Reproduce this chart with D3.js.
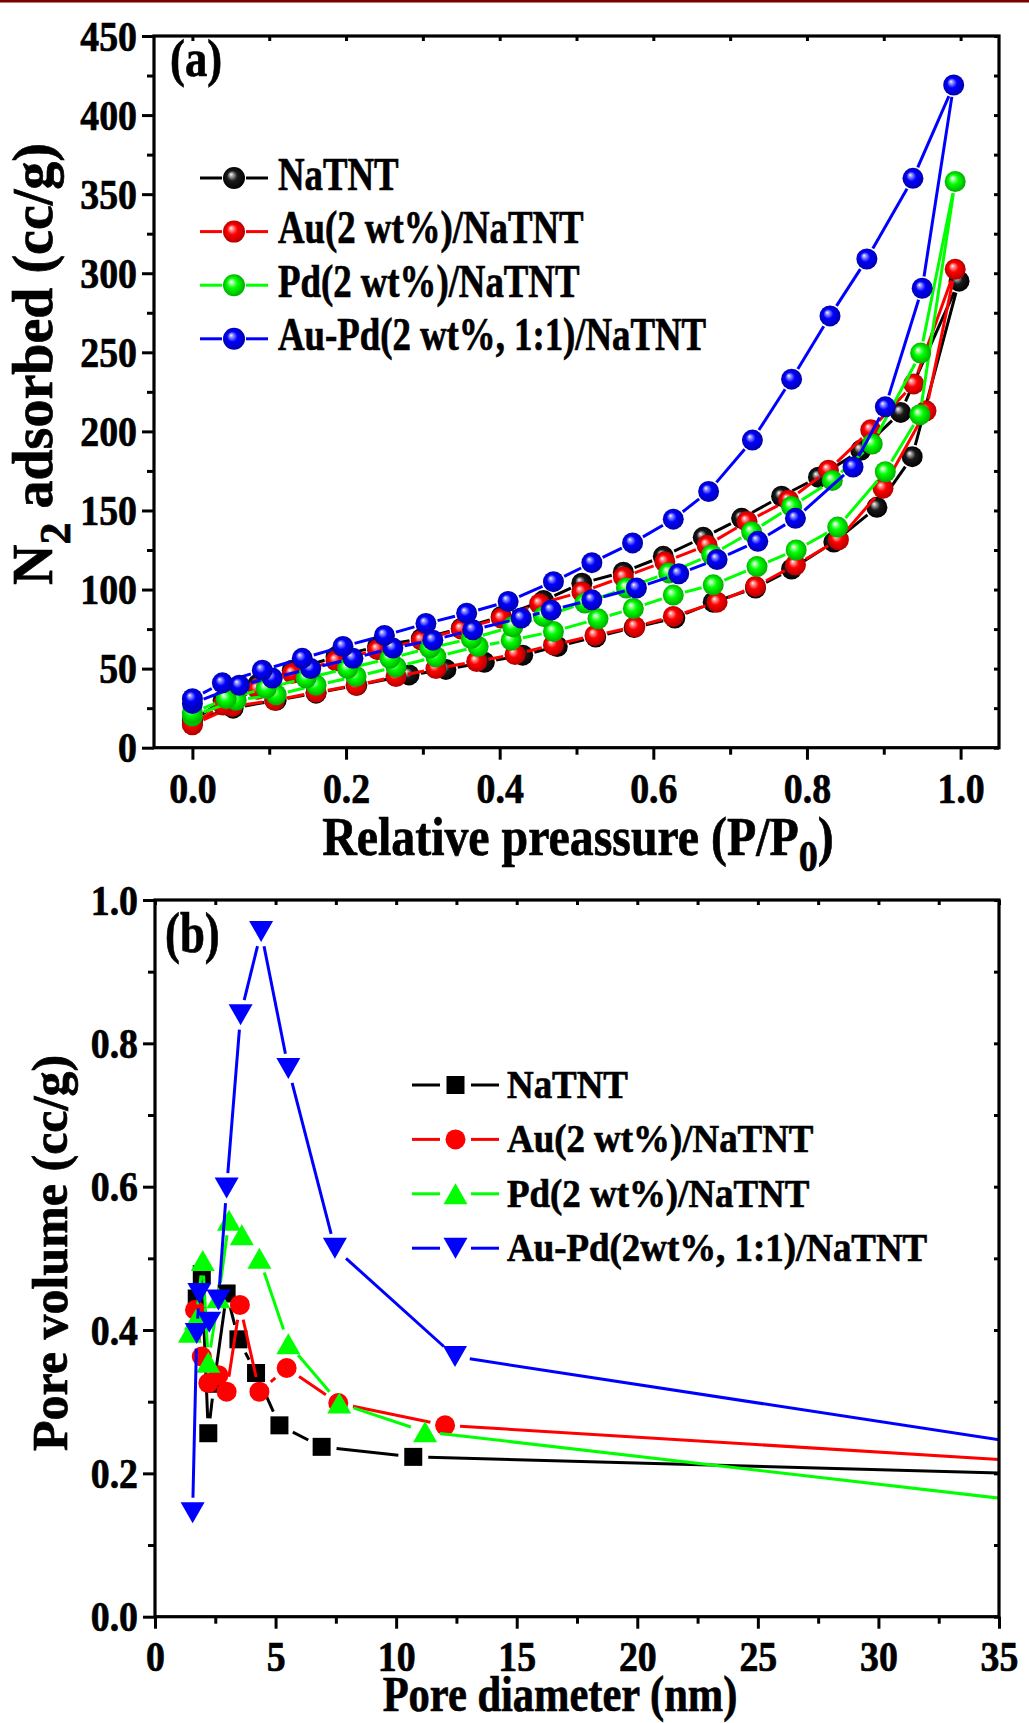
<!DOCTYPE html>
<html>
<head>
<meta charset="utf-8">
<script src="https://d3js.org/d3.v7.min.js"></script>
<style>
  body { margin: 0; background: #fff; }
  svg text { font-family: "Liberation Serif", "Times New Roman", serif; font-weight: bold; fill: #000;
             stroke: #000; stroke-width: 0.7px; }
</style>
</head>
<body>
<svg id="chart" width="1029" height="1723"></svg>
<script>
// ---- (a) N2 isotherms: adsorption branch (Ads) and desorption branch (Des) ----
const natntAdsP = [0.0, 0.053, 0.109, 0.161, 0.214, 0.282, 0.330, 0.380, 0.430, 0.475, 0.525, 0.575, 0.628, 0.678, 0.733, 0.780, 0.835, 0.891, 0.937, 0.998];
const natntAdsV = [17, 25, 30, 34.5, 39.5, 46, 49.5, 54, 58.5, 64, 70, 76, 82, 92, 101, 113, 130, 152, 184, 295];
const natntDesP = [0.922, 0.870, 0.815, 0.767, 0.715, 0.665, 0.613, 0.561, 0.507, 0.457, 0.402, 0.350, 0.298, 0.241, 0.187, 0.130, 0.085, 0.040, 0.0];
const natntDesV = [212, 188, 171, 159, 145, 133, 121, 111, 104, 93, 83, 75.5, 69, 64, 57.5, 49, 40, 30, 17];

const auAdsP = [0.0, 0.052, 0.107, 0.161, 0.213, 0.265, 0.317, 0.370, 0.420, 0.470, 0.524, 0.576, 0.626, 0.683, 0.733, 0.785, 0.841, 0.899, 0.955, 0.993];
const auAdsV = [14.5, 26, 30, 35, 39.5, 45, 50, 54.5, 59, 65, 71, 76.5, 83, 92, 102, 115.5, 131.5, 164, 213, 302.5];
const auDesP = [0.939, 0.883, 0.828, 0.776, 0.722, 0.670, 0.615, 0.561, 0.507, 0.452, 0.402, 0.350, 0.298, 0.241, 0.187, 0.130, 0.085, 0.040, 0.0];
const auDesV = [230, 201, 175.5, 156.5, 143, 128, 117.5, 108, 98.5, 91, 82, 75, 68, 62, 55, 47, 37, 27, 15];

const pdAdsP = [0.0, 0.057, 0.109, 0.161, 0.213, 0.265, 0.317, 0.372, 0.415, 0.470, 0.528, 0.574, 0.626, 0.678, 0.735, 0.786, 0.840, 0.902, 0.947, 0.993];
const pdAdsV = [20, 30, 33.5, 39.5, 45, 51, 57.5, 64, 68, 73.5, 81.5, 88, 96.5, 103, 114.5, 125, 139.5, 174.5, 210.5, 358];
const pdDesP = [0.948, 0.885, 0.833, 0.780, 0.728, 0.676, 0.620, 0.565, 0.511, 0.457, 0.417, 0.363, 0.309, 0.257, 0.202, 0.148, 0.096, 0.044, 0.0];
const pdDesV = [249.5, 192, 169, 152.5, 136.5, 122, 110.5, 101, 91.5, 83, 76.5, 69, 63, 56.5, 50, 44, 37.5, 31, 22];

const aupdAdsP = [0.0, 0.061, 0.104, 0.154, 0.209, 0.261, 0.313, 0.365, 0.428, 0.467, 0.520, 0.578, 0.633, 0.683, 0.736, 0.785, 0.860, 0.902, 0.950, 0.991];
const aupdAdsV = [28, 39.5, 44, 50, 56.5, 63, 68, 74.5, 82, 87, 93.5, 101, 110, 119, 130.5, 145, 177.5, 215.5, 290.5, 419];
const aupdDesP = [0.938, 0.878, 0.830, 0.780, 0.729, 0.672, 0.626, 0.573, 0.520, 0.470, 0.411, 0.357, 0.304, 0.250, 0.196, 0.143, 0.091, 0.039, 0.0];
const aupdDesV = [360, 309, 273, 233, 194.5, 162, 144.5, 129.5, 117, 105, 92.5, 85, 78.5, 71, 64, 56.5, 49, 41, 31];

// ---- (b) pore size distribution (last point lies past the 35 nm edge, estimated) ----
const natntD = [1.73, 1.94, 2.21, 2.45, 2.97, 3.46, 4.19, 5.16, 6.91, 10.71, 40];
const natntPV = [0.444, 0.478, 0.256, 0.325, 0.451, 0.387, 0.340, 0.267, 0.237, 0.223, 0.196];
const auD = [1.66, 1.94, 2.21, 2.63, 2.97, 3.52, 4.33, 5.46, 7.60, 12.03, 40];
const auPV = [0.428, 0.363, 0.326, 0.337, 0.314, 0.435, 0.314, 0.347, 0.298, 0.267, 0.209];
const pdD = [1.45, 1.70, 1.98, 2.21, 2.63, 3.07, 3.60, 4.33, 5.53, 7.64, 11.2, 40];
const pdPV = [0.397, 0.415, 0.497, 0.355, 0.445, 0.553, 0.533, 0.500, 0.381, 0.298, 0.258, 0.146];
const aupdD = [1.56, 1.73, 1.84, 2.25, 2.63, 2.97, 3.55, 4.40, 5.53, 7.46, 12.44, 40];
const aupdPV = [0.145, 0.395, 0.451, 0.411, 0.442, 0.598, 0.840, 0.956, 0.765, 0.514, 0.363, 0.221];

const namesA = ["NaTNT", "Au(2 wt%)/NaTNT", "Pd(2 wt%)/NaTNT", "Au-Pd(2 wt%, 1:1)/NaTNT"];
const namesB = ["NaTNT", "Au(2 wt%)/NaTNT", "Pd(2 wt%)/NaTNT", "Au-Pd(2wt%, 1:1)/NaTNT"];
const colors = ["#000000", "#ff0000", "#00ff00", "#0000ff"];

const aXTicks = [0, 0.2, 0.4, 0.6, 0.8, 1.0];
const aXMinor = [0.1, 0.3, 0.5, 0.7, 0.9];
const aYTicks = [0, 50, 100, 150, 200, 250, 300, 350, 400, 450];
const aYMinor = [25, 75, 125, 175, 225, 275, 325, 375, 425];
const bXTicks = [0, 5, 10, 15, 20, 25, 30, 35];
const bXMinor = [2.5, 7.5, 12.5, 17.5, 22.5, 27.5, 32.5];
const bYTicks = [0, 0.2, 0.4, 0.6, 0.8, 1.0];
const bYMinor = [0.1, 0.3, 0.5, 0.7, 0.9];

const svg = d3.select("#chart");
const defs = svg.append("defs");

// thin maroon rule along the top edge
svg.append("rect").attr("x", 0).attr("y", 0).attr("width", 1029).attr("height", 2.5).attr("fill", "#7a0000");

// shaded ball gradients
const ballCols = [
  ["#1a1a1a", "#b0b0b0", "#000000"],
  ["#ff0000", "#ffa0a0", "#b00000"],
  ["#00ff00", "#b0ffb0", "#00a800"],
  ["#0000ff", "#a0a0ff", "#0000a8"]
];
ballCols.forEach((c, i) => {
  const g = defs.append("radialGradient").attr("id", "ball" + i)
    .attr("cx", "50%").attr("cy", "50%").attr("r", "52%").attr("fx", "36%").attr("fy", "33%");
  g.append("stop").attr("offset", "0%").attr("stop-color", "#ffffff");
  g.append("stop").attr("offset", "14%").attr("stop-color", c[1]);
  g.append("stop").attr("offset", "45%").attr("stop-color", c[0]);
  g.append("stop").attr("offset", "100%").attr("stop-color", c[2]);
});

// text helper with horizontal condensing
function label(parent, x, y, str, size, sx, anchor) {
  return parent.append("g").attr("transform", `translate(${x},${y}) scale(${sx},1)`)
    .append("text").attr("font-size", size).attr("text-anchor", anchor || "start").text(str);
}

// line segments that stop short of each symbol
function gapped(pts, gap) {
  const segs = [];
  for (let i = 0; i < pts.length - 1; i++) {
    const [x1, y1] = pts[i], [x2, y2] = pts[i + 1];
    const dx = x2 - x1, dy = y2 - y1, len = Math.hypot(dx, dy);
    if (len <= 2 * gap) continue;
    const ux = dx / len, uy = dy / len;
    segs.push([x1 + ux * gap, y1 + uy * gap, x2 - ux * gap, y2 - uy * gap]);
  }
  return segs;
}

function drawFrame(x, y, xT, xM, yT, yM, fmtX, fmtY, labelDrop) {
  const g = svg.append("g");
  const [x0, x1] = x.range(), [y0, y1] = y.range();
  const bottom = g.append("g").attr("transform", `translate(0,${y0})`)
    .call(d3.axisBottom(x).tickValues(xT).tickSize(12).tickSizeOuter(0).tickFormat(fmtX));
  g.append("g").attr("transform", `translate(0,${y0})`)
    .call(d3.axisBottom(x).tickValues(xM).tickSize(7).tickSizeOuter(0).tickFormat(""));
  const left = g.append("g").attr("transform", `translate(${x0},0)`)
    .call(d3.axisLeft(y).tickValues(yT).tickSize(12).tickSizeOuter(0).tickFormat(fmtY));
  g.append("g").attr("transform", `translate(${x0},0)`)
    .call(d3.axisLeft(y).tickValues(yM).tickSize(7).tickSizeOuter(0).tickFormat(""));
  g.append("g").attr("transform", `translate(0,${y1})`)
    .call(d3.axisTop(x).tickValues(xT.concat(xM)).tickSize(-5).tickSizeOuter(0).tickFormat(""));
  g.append("g").attr("transform", `translate(${x1},0)`)
    .call(d3.axisRight(y).tickValues(yT.concat(yM)).tickSize(-5).tickSizeOuter(0).tickFormat(""));
  g.selectAll(".domain").remove();
  g.selectAll(".tick line").attr("stroke", "#000").attr("stroke-width", 3);
  bottom.selectAll(".tick text")
    .attr("y", null).attr("dy", null).attr("font-size", 42).attr("font-family", null)
    .attr("transform", `translate(0,${labelDrop}) scale(0.9,1)`);
  left.selectAll(".tick text")
    .attr("x", null).attr("dy", "0.34em").attr("font-size", 42).attr("font-family", null)
    .attr("transform", "translate(-17,0) scale(0.9,1)");
  g.append("rect").attr("x", x0).attr("y", y1).attr("width", x1 - x0).attr("height", y0 - y1)
    .attr("fill", "none").attr("stroke", "#000").attr("stroke-width", 3.2);
}

// ================= panel (a) =================
const xA = d3.scaleLinear().domain([-0.05, 1.05]).range([154, 999]);
const yA = d3.scaleLinear().domain([0, 450]).range([747.7, 36]);

const isoA = [
  [natntAdsP.concat(natntDesP), natntAdsV.concat(natntDesV)],
  [auAdsP.concat(auDesP), auAdsV.concat(auDesV)],
  [pdAdsP.concat(pdDesP), pdAdsV.concat(pdDesV)],
  [aupdAdsP.concat(aupdDesP), aupdAdsV.concat(aupdDesV)]
];

const plotA = svg.append("g");
isoA.forEach(([ps, vs], i) => {
  const pts = ps.map((p, k) => [xA(p), yA(vs[k])]);
  const g = plotA.append("g");
  g.selectAll("line").data(gapped(pts, 12)).join("line")
    .attr("x1", d => d[0]).attr("y1", d => d[1]).attr("x2", d => d[2]).attr("y2", d => d[3])
    .attr("stroke", colors[i]).attr("stroke-width", 3);
  g.selectAll("circle").data(pts).join("circle")
    .attr("cx", d => d[0]).attr("cy", d => d[1]).attr("r", 10.5)
    .attr("fill", `url(#ball${i})`);
});

drawFrame(xA, yA, aXTicks, aXMinor, aYTicks, aYMinor, d3.format(".1f"), d3.format("d"), 55);

// legend (a)
namesA.forEach((n, i) => {
  const cy = 178 + i * 53.6;
  const lg = svg.append("g");
  lg.append("line").attr("x1", 200).attr("x2", 222).attr("y1", cy).attr("y2", cy).attr("stroke", colors[i]).attr("stroke-width", 3);
  lg.append("line").attr("x1", 246).attr("x2", 268).attr("y1", cy).attr("y2", cy).attr("stroke", colors[i]).attr("stroke-width", 3);
  lg.append("circle").attr("cx", 234).attr("cy", cy).attr("r", 11).attr("fill", `url(#ball${i})`);
  label(lg, 278, cy + 11.5, n, 46, 0.8);
});

label(svg, 170, 76, "(a)", 52, 0.86);

// axis titles (a)
const tA = svg.append("g").attr("transform", "translate(578,855) scale(0.87,1)").append("text")
  .attr("font-size", 55).attr("text-anchor", "middle");
tA.append("tspan").text("Relative preassure (P/P");
tA.append("tspan").attr("font-size", 44).attr("dy", 16).text("0");
tA.append("tspan").attr("dy", -16).text(")");

const yTA = svg.append("g").attr("transform", "translate(52,364) rotate(-90)").append("text")
  .attr("font-size", 56).attr("text-anchor", "middle");
yTA.append("tspan").text("N");
yTA.append("tspan").attr("font-size", 44).attr("dy", 18).text("2");
yTA.append("tspan").attr("dy", -18).text(" adsorbed (cc/g)");

// ================= panel (b) =================
const xB = d3.scaleLinear().domain([0, 35]).range([155, 999]);
const yB = d3.scaleLinear().domain([0, 1]).range([1616.7, 900]);

defs.append("clipPath").attr("id", "clipB").append("rect")
  .attr("x", 155).attr("y", 880).attr("width", 999 - 155).attr("height", 1616.7 - 880);

const psd = [[natntD, natntPV], [auD, auPV], [pdD, pdPV], [aupdD, aupdPV]];
const symPath = [
  "M-9,-9H9V9H-9Z",
  "M10,0A10,10 0 1,1 -10,0A10,10 0 1,1 10,0Z",
  "M0,-10.5L12,10.5L-12,10.5Z",
  "M0,10.5L12,-10.5L-12,-10.5Z"
];

const plotB = svg.append("g").attr("clip-path", "url(#clipB)");
psd.forEach(([ds, vs], i) => {
  const pts = ds.map((d, k) => [xB(d), yB(vs[k])]);
  const g = plotB.append("g");
  g.selectAll("line").data(gapped(pts, 15)).join("line")
    .attr("x1", d => d[0]).attr("y1", d => d[1]).attr("x2", d => d[2]).attr("y2", d => d[3])
    .attr("stroke", colors[i]).attr("stroke-width", 3);
  g.selectAll("path").data(pts).join("path")
    .attr("d", symPath[i]).attr("transform", d => `translate(${d[0]},${d[1]})`)
    .attr("fill", colors[i]);
});

drawFrame(xB, yB, bXTicks, bXMinor, bYTicks, bYMinor, d3.format("d"), d3.format(".1f"), 54);

// legend (b)
namesB.forEach((n, i) => {
  const cy = 1085 + i * 54.4;
  const lg = svg.append("g");
  lg.append("line").attr("x1", 412).attr("x2", 440).attr("y1", cy).attr("y2", cy).attr("stroke", colors[i]).attr("stroke-width", 3);
  lg.append("line").attr("x1", 471).attr("x2", 499).attr("y1", cy).attr("y2", cy).attr("stroke", colors[i]).attr("stroke-width", 3);
  lg.append("path").attr("d", symPath[i]).attr("transform", `translate(455.5,${cy})`).attr("fill", colors[i]);
  label(lg, 507, cy + 13, n, 41, 0.9);
});

label(svg, 165, 952, "(b)", 56, 0.8);

label(svg, 560, 1711, "Pore diameter (nm)", 50, 0.85, "middle");
svg.append("g").attr("transform", "translate(67,1253) rotate(-90)").append("text")
  .attr("font-size", 50).attr("text-anchor", "middle").text("Pore volume (cc/g)");
</script>
</body>
</html>
